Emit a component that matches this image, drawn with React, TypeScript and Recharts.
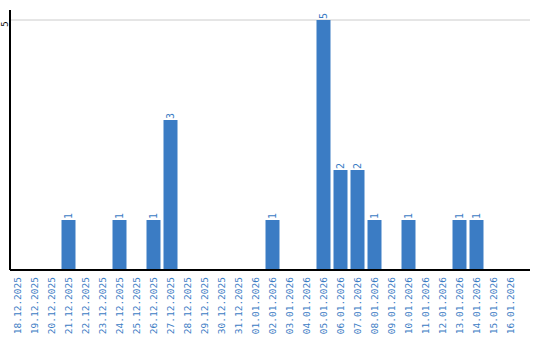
import { BarChart, Bar, XAxis, YAxis, CartesianGrid, LabelList } from 'recharts';

const dates = [
  '18.12.2025', '19.12.2025', '20.12.2025', '21.12.2025', '22.12.2025', '23.12.2025',
  '24.12.2025', '25.12.2025', '26.12.2025', '27.12.2025', '28.12.2025', '29.12.2025',
  '30.12.2025', '31.12.2025', '01.01.2026', '02.01.2026', '03.01.2026', '04.01.2026',
  '05.01.2026', '06.01.2026', '07.01.2026', '08.01.2026', '09.01.2026', '10.01.2026',
  '11.01.2026', '12.01.2026', '13.01.2026', '14.01.2026', '15.01.2026', '16.01.2026',
];

const counts = [
  0, 0, 0, 1, 0, 0,
  1, 0, 1, 3, 0, 0,
  0, 0, 0, 1, 0, 0,
  5, 2, 2, 1, 0, 1,
  0, 0, 1, 1, 0, 0,
];

const yTicks = [5];

const data = dates.map((date, i) => ({ date, count: counts[i] }));

const BLUE = '#3b7cc4';
const FONT = '"DejaVu Sans Mono", monospace';

function DateTick({ x, y, payload }: any) {
  return (
    <text
      x={0}
      y={0}
      transform={`translate(${x},${y - 1}) rotate(-90)`}
      textAnchor="end"
      dominantBaseline="central"
      fill={BLUE}
      fontSize={9.5}
      fontFamily={FONT}
    >
      {payload.value}
    </text>
  );
}

function CountTick({ y, payload }: any) {
  return (
    <text
      x={0}
      y={0}
      transform={`translate(5,${y + 4}) rotate(-90)`}
      textAnchor="middle"
      dominantBaseline="central"
      fill="#000"
      fontSize={9}
      fontFamily={FONT}
    >
      {payload.value}
    </text>
  );
}

function ValueLabel({ x, y, width, value }: any) {
  if (!value) return null;
  const cx = x + width / 2;
  return (
    <text
      x={0}
      y={0}
      transform={`translate(${cx},${y - 1}) rotate(-90)`}
      textAnchor="start"
      dominantBaseline="central"
      fill={BLUE}
      fontSize={10}
      fontFamily={FONT}
    >
      {value}
    </text>
  );
}

export default function App() {
  return (
    <div style={{ position: 'absolute', left: 0, top: 0, background: '#fff' }}>
      <BarChart
        width={540}
        height={340}
        data={data}
        margin={{ top: 10, right: 10, left: 0, bottom: 0 }}
        barCategoryGap={1.5}
      >
        <CartesianGrid vertical={false} horizontalValues={yTicks} stroke="#cccccc" strokeWidth={1} />
        <XAxis
          dataKey="date"
          interval={0}
          height={70}
          padding={{ left: -1, right: 11 }}
          tickLine={false}
          axisLine={{ stroke: '#000', strokeWidth: 2 }}
          tick={<DateTick />}
        />
        <YAxis
          width={10}
          domain={[0, 5.2]}
          ticks={yTicks}
          tickLine={false}
          axisLine={{ stroke: '#000', strokeWidth: 2 }}
          tick={<CountTick />}
        />
        <Bar dataKey="count" fill={BLUE} isAnimationActive={false}>
          <LabelList dataKey="count" content={<ValueLabel />} />
        </Bar>
      </BarChart>
    </div>
  );
}
